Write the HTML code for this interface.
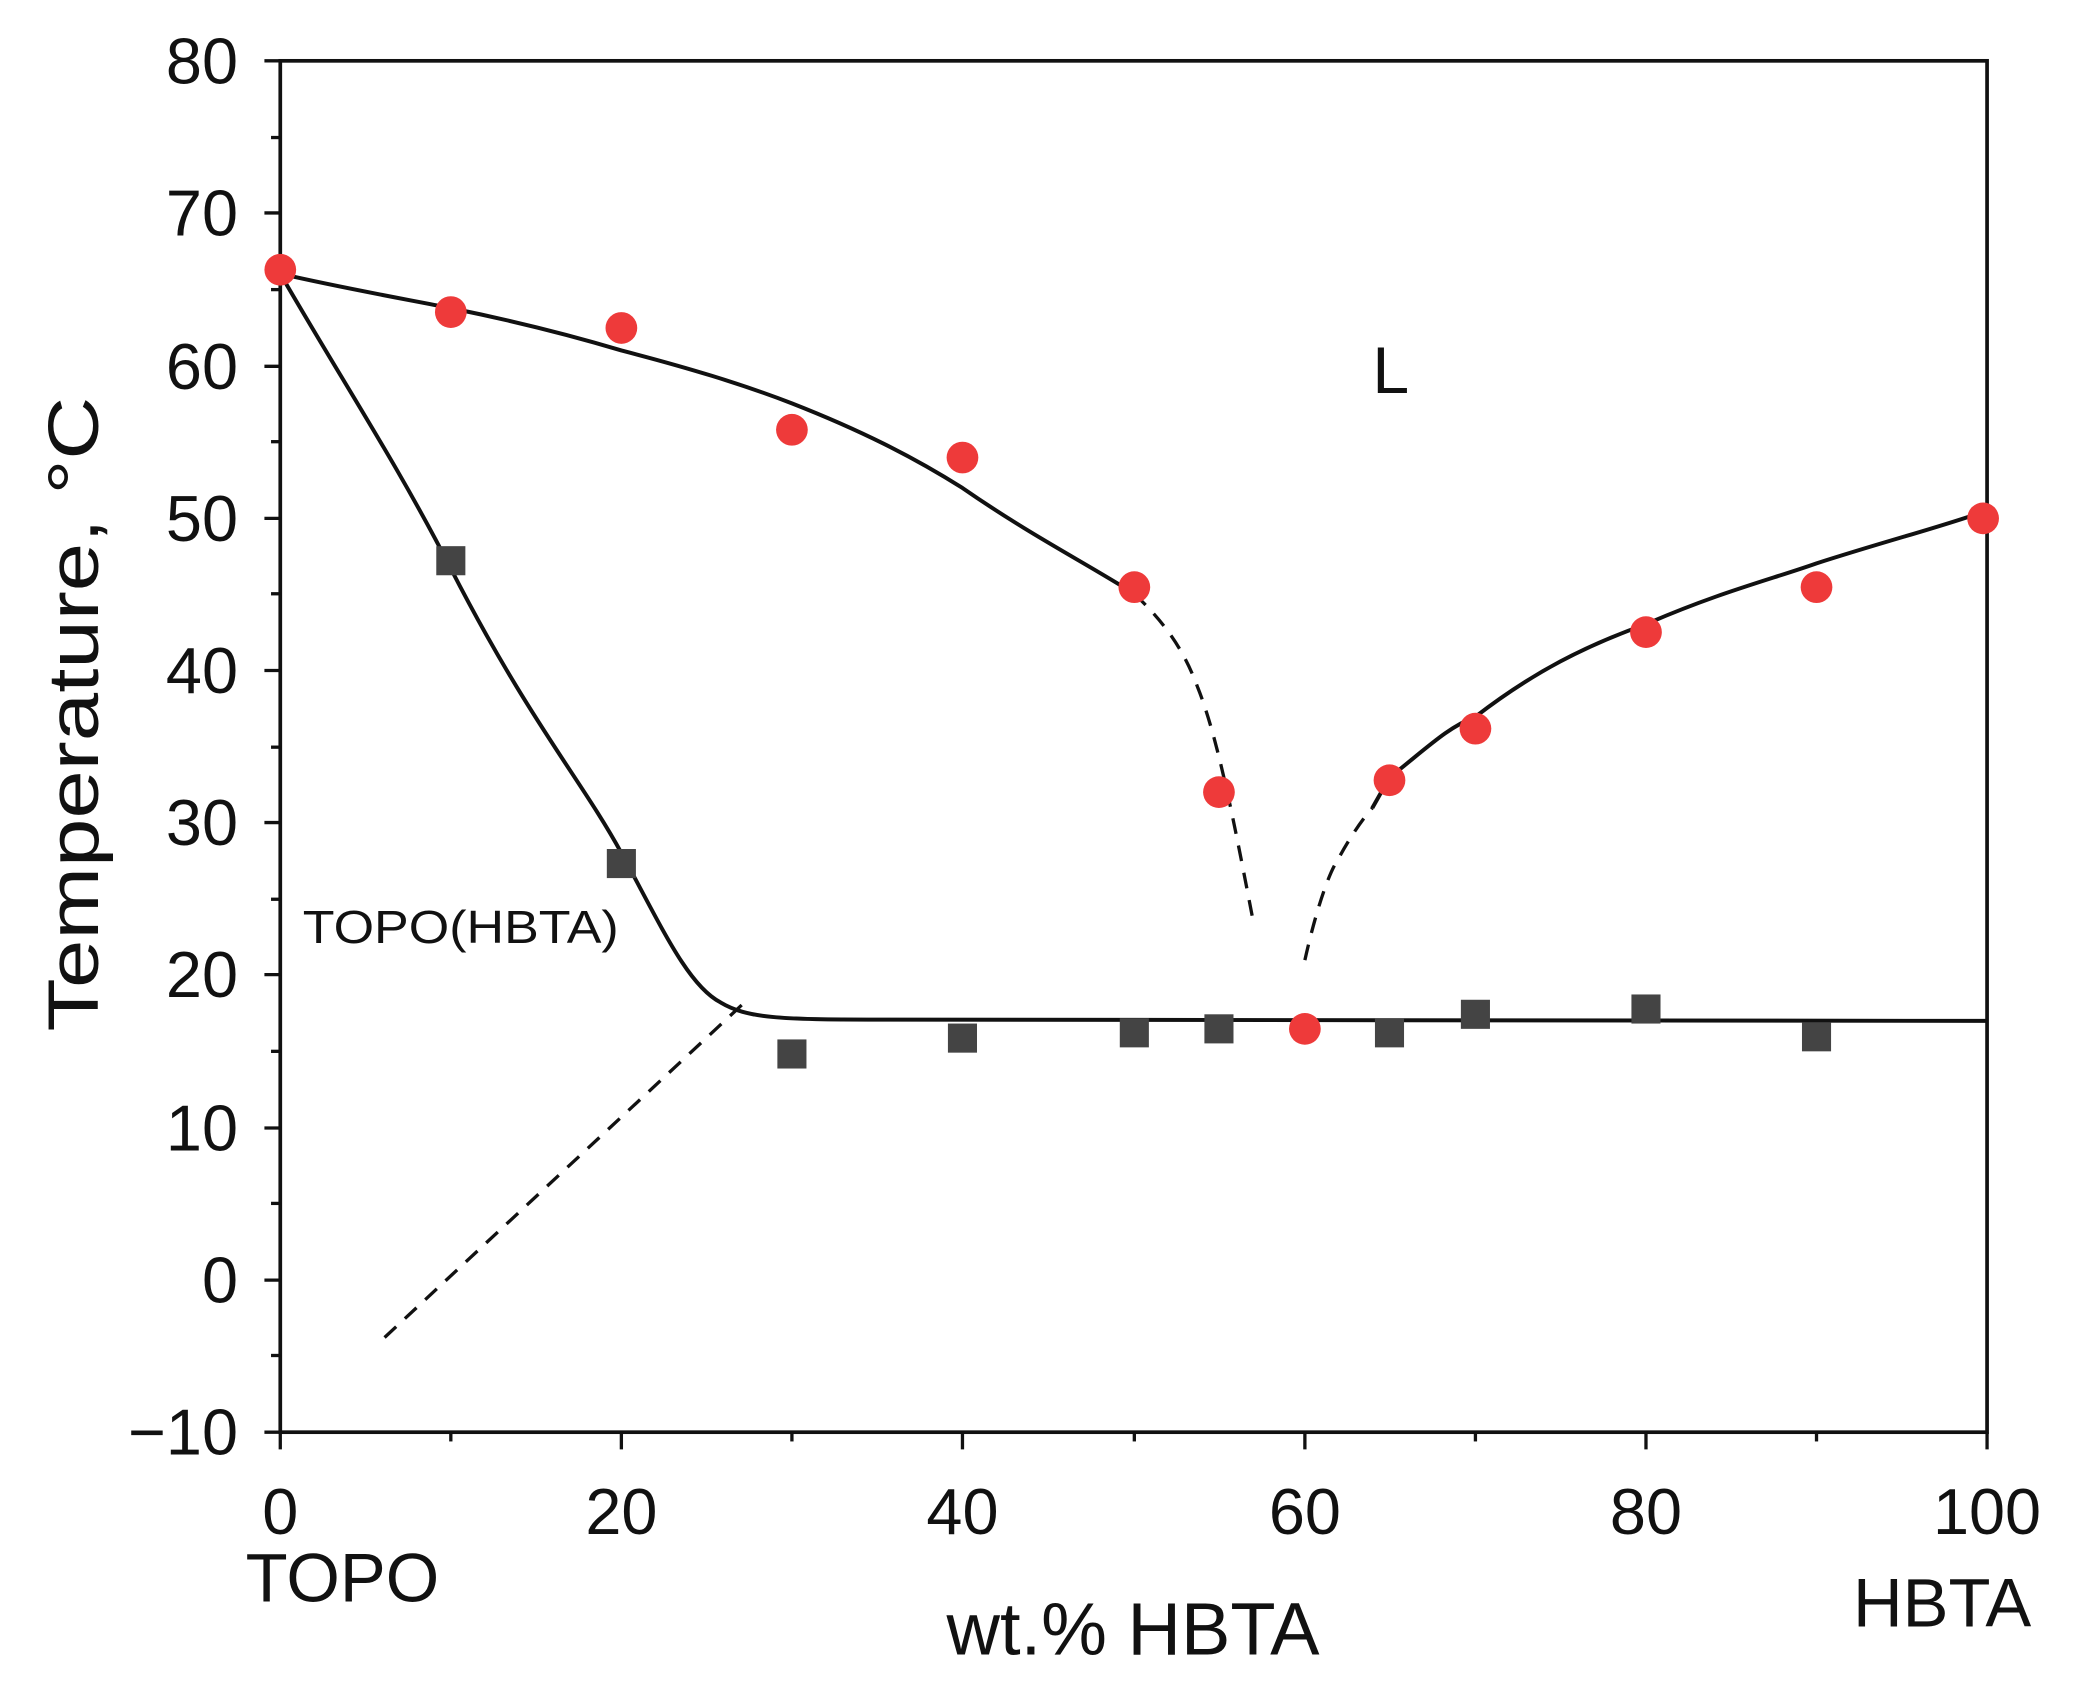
<!DOCTYPE html>
<html><head><meta charset="utf-8"><style>html,body{margin:0;padding:0;background:#fff}svg{display:block}</style></head>
<body>
<svg width="2073" height="1698" viewBox="0 0 1568 1284" preserveAspectRatio="none" xmlns="http://www.w3.org/2000/svg" font-family="Liberation Sans, Arial, sans-serif">
<rect width="1568" height="1284" fill="#fff"/>
<rect x="212" y="46" width="1291" height="1037" fill="none" stroke="#111" stroke-width="2.8"/>
<g stroke="#111" stroke-width="2.5">
<line x1="200" y1="46" x2="212" y2="46"/><line x1="200" y1="161" x2="212" y2="161"/><line x1="200" y1="277" x2="212" y2="277"/><line x1="200" y1="392" x2="212" y2="392"/><line x1="200" y1="507" x2="212" y2="507"/><line x1="200" y1="622" x2="212" y2="622"/><line x1="200" y1="737" x2="212" y2="737"/><line x1="200" y1="853" x2="212" y2="853"/><line x1="200" y1="968" x2="212" y2="968"/><line x1="200" y1="1083" x2="212" y2="1083"/>
<line x1="205" y1="104" x2="212" y2="104"/><line x1="205" y1="219" x2="212" y2="219"/><line x1="205" y1="334" x2="212" y2="334"/><line x1="205" y1="449" x2="212" y2="449"/><line x1="205" y1="565" x2="212" y2="565"/><line x1="205" y1="680" x2="212" y2="680"/><line x1="205" y1="795" x2="212" y2="795"/><line x1="205" y1="910" x2="212" y2="910"/><line x1="205" y1="1025" x2="212" y2="1025"/>
<line x1="212" y1="1083" x2="212" y2="1096"/><line x1="470" y1="1083" x2="470" y2="1096"/><line x1="728" y1="1083" x2="728" y2="1096"/><line x1="987" y1="1083" x2="987" y2="1096"/><line x1="1245" y1="1083" x2="1245" y2="1096"/><line x1="1503" y1="1083" x2="1503" y2="1096"/>
<line x1="341" y1="1083" x2="341" y2="1090"/><line x1="599" y1="1083" x2="599" y2="1090"/><line x1="858" y1="1083" x2="858" y2="1090"/><line x1="1116" y1="1083" x2="1116" y2="1090"/><line x1="1374" y1="1083" x2="1374" y2="1090"/>
</g>
<g font-size="49" fill="#111" text-anchor="end">
<text x="180" y="63">80</text><text x="180" y="178">70</text><text x="180" y="294">60</text><text x="180" y="409">50</text><text x="180" y="524">40</text><text x="180" y="639">30</text><text x="180" y="754">20</text><text x="180" y="870">10</text><text x="180" y="985">0</text><text x="180" y="1100">−10</text>
</g>
<g font-size="49" fill="#111" text-anchor="middle">
<text x="212" y="1160">0</text><text x="470" y="1160">20</text><text x="728" y="1160">40</text><text x="987" y="1160">60</text><text x="1245" y="1160">80</text><text x="1503" y="1160">100</text>
<text x="259" y="1211" font-size="52">TOPO</text><text x="857" y="1251" font-size="56">wt.% HBTA</text><text x="1469" y="1230" font-size="52">HBTA</text>
<text x="1052" y="297" font-size="50">L</text>
<text transform="translate(74,540) rotate(-90)" font-size="54" textLength="480" lengthAdjust="spacingAndGlyphs">Temperature, °C</text>
</g>
<text x="229" y="713" font-size="35" fill="#111" textLength="239" lengthAdjust="spacingAndGlyphs">TOPO(HBTA)</text>
<g fill="none" stroke="#111" stroke-width="3">
<path d="M212,207 C260,218 300,225 341,233 C400,245 440,256 470,265 C520,278 560,290 599,305 C650,325 690,345 728,369 C780,405 820,425 858,449"/>
<path d="M1038,611 L1051,588 C1080,565 1095,550 1116,542 C1160,508 1200,488 1245,472 C1300,448 1340,438 1374,426 C1430,408 1470,398 1503,386"/>
<path d="M212,207 C260,290 300,350 341,430 C400,545 440,590 470,645 C500,700 520,745 545,758 C565,770 590,771 664,771 L1503,772"/>
</g>
<g fill="none" stroke="#111" stroke-width="2.5" stroke-dasharray="12,9">
<path d="M858,449 C880,470 895,490 906,520 C922,560 935,630 948,697"/>
<path d="M987,726 C995,690 1005,660 1012,650 C1020,635 1030,620 1038,611"/>
<path d="M561,760 L287,1015"/>
</g>
<g fill="#ee3a3a">
<circle cx="212" cy="204" r="12"/><circle cx="341" cy="236" r="12"/><circle cx="470" cy="248" r="12"/><circle cx="599" cy="325" r="12"/><circle cx="728" cy="346" r="12"/><circle cx="858" cy="444" r="12"/><circle cx="922" cy="599" r="12"/><circle cx="987" cy="778" r="12"/><circle cx="1051" cy="590" r="12"/><circle cx="1116" cy="551" r="12"/><circle cx="1245" cy="478" r="12"/><circle cx="1374" cy="444" r="12"/><circle cx="1500" cy="392" r="12"/>
</g>
<g fill="#444">
<rect x="330" y="413" width="22" height="22"/><rect x="459" y="642" width="22" height="22"/><rect x="588" y="786" width="22" height="22"/><rect x="717" y="774" width="22" height="22"/><rect x="847" y="770" width="22" height="22"/><rect x="911" y="767" width="22" height="22"/><rect x="1040" y="770" width="22" height="22"/><rect x="1105" y="756" width="22" height="22"/><rect x="1234" y="752" width="22" height="22"/><rect x="1363" y="773" width="22" height="22"/>
</g>
</svg>
</body></html>
